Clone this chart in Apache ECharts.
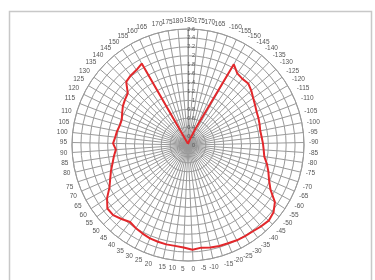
<!DOCTYPE html>
<html>
<head>
<meta charset="utf-8">
<script src="https://cdn.jsdelivr.net/npm/echarts@6/dist/echarts.min.js"></script>
<style>
  html, body { margin: 0; padding: 0; background: #fff; }
  #chart { width: 375px; height: 280px; }
</style>
</head>
<body>
<div id="chart"></div>
<script>
// angle categories, -180 at top going clockwise, 0 at the bottom
var angles = [-180, -175, -170, -165, -160, -155, -150, -145, -140, -135, -130, -125,
  -120, -115, -110, -105, -100, -95, -90, -85, -80, -75, -70, -65, -60, -55, -50,
  -45, -40, -35, -30, -25, -20, -15, -10, -5, 0, 5, 10, 15, 20, 25, 30, 35, 40, 45,
  50, 55, 60, 65, 70, 75, 80, 85, 90, 95, 100, 105, 110, 115, 120, 125, 130, 135,
  140, 145, 150, 155, 160, 165, 170, 175, 180]
var gain = [0.02, 0.03, 0.05, 0.08, 0.15, 0.4, 2.08, 1.95, 1.92, 1.93, 1.87, 1.8,
  1.75, 1.71, 1.69, 1.67, 1.65, 1.66, 1.68, 1.7, 1.73, 1.82, 1.9, 1.98, 2.1, 2.33, 2.44,
  2.48, 2.45, 2.42, 2.41, 2.4, 2.38, 2.37, 2.35, 2.32, 2.35, 2.3, 2.28, 2.28, 2.27, 2.26, 2.23, 2.2, 2.16, 2.23,
  2.3, 2.3, 2.17, 2.0, 1.9, 1.82, 1.74, 1.68, 1.62, 1.68, 1.64, 1.62, 1.59, 1.59, 1.64, 1.7, 1.74, 1.78,
  1.98, 2.02, 2.04, 2.1, 0.15, 0.08, 0.05, 0.03, 0.02]
var radiusMax = 2.6
var radiusStep = 0.2

var data = []
for (var i = 0; i < angles.length; i++) {
  data.push([gain[i], angles[i] + 180])
}

var chart = echarts.init(document.getElementById('chart'))
chart.setOption({
  backgroundColor: '#fff',
  animation: false,
  graphic: [{
    type: 'rect',
    shape: { x: 9.5, y: 11.5, width: 362, height: 290 },
    style: { fill: 'none', stroke: '#c8c8c8', lineWidth: 1.5 }
  }],
  polar: {
    center: [188, 145],
    radius: 116
  },
  angleAxis: {
    type: 'value',
    min: 0,
    max: 365,
    interval: 5,
    startAngle: 90,
    clockwise: true,
    axisLine: { show: true, lineStyle: { color: '#9a9a9a', width: 1 } },
    axisTick: { show: false },
    splitLine: { show: true, lineStyle: { color: '#9a9a9a', width: 1 } },
    axisLabel: {
      fontSize: 6.5,
      color: '#555',
      margin: 5,
      fontFamily: 'Liberation Sans',
      formatter: function (v) {
        if (v > 360) return ''
        return String(v - 180)
      }
    }
  },
  radiusAxis: {
    type: 'value',
    min: 0,
    max: radiusMax,
    interval: radiusStep,
    axisLine: { show: true, lineStyle: { color: '#9a9a9a' } },
    axisTick: { show: false },
    splitLine: { show: true, lineStyle: { color: '#9a9a9a', width: 1 } },
    axisLabel: {
      fontSize: 5.5,
      color: '#555',
      margin: -7,
      fontFamily: 'Liberation Sans'
    }
  },
  series: [{
    type: 'line',
    coordinateSystem: 'polar',
    data: data,
    showSymbol: false,
    symbol: 'none',
    lineStyle: { color: '#e2282c', width: 2 }
  }]
})
</script>
</body>
</html>
